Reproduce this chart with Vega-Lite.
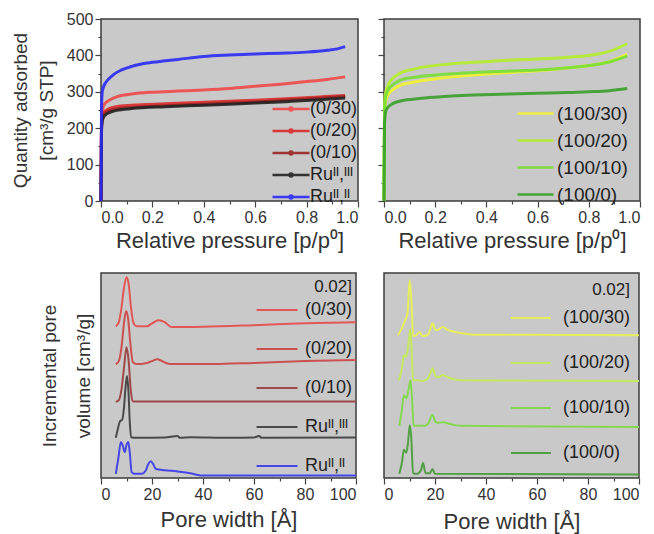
{
  "$schema": "https://vega.github.io/schema/vega-lite/v6.json",
  "background": "white",
  "padding": {"left": 10, "top": 10, "right": 5, "bottom": 5},
  "columns": 2,
  "align": "each",
  "spacing": {"row": 20, "column": 15},
  "resolve": {
    "scale": {"color": "independent", "x": "independent", "y": "independent"},
    "legend": {"color": "independent"}
  },
  "config": {
    "font": "Liberation Sans",
    "view": {"fill": "#c9c9c9", "stroke": "#3c3c3c", "strokeWidth": 1.5},
    "axis": {
      "domain": false, "grid": false, "ticks": true,
      "tickColor": "#444", "tickWidth": 1.2,
      "labelFontSize": 16, "labelColor": "#333", "labelPadding": 2,
      "titleFontSize": 22, "titleFontWeight": "normal", "titleColor": "#333"
    },
    "legend": {
      "orient": "none", "padding": 0, "symbolStrokeWidth": 2.5, "symbolSize": 100,
      "labelFontSize": 18, "labelColor": "#222",
      "titleFontSize": 17, "titleFontWeight": "normal", "titleColor": "#222"
    }
  },
  "datasets": {
    "iso_left": [
      {"s": "(0/30)", "p": 0, "v": 0}, {"s": "(0/30)", "p": 0.002, "v": 220}, {"s": "(0/30)", "p": 0.005, "v": 250}, {"s": "(0/30)", "p": 0.01, "v": 262}, {"s": "(0/30)", "p": 0.02, "v": 271}, {"s": "(0/30)", "p": 0.03, "v": 276}, {"s": "(0/30)", "p": 0.06, "v": 286}, {"s": "(0/30)", "p": 0.12, "v": 294}, {"s": "(0/30)", "p": 0.2, "v": 299}, {"s": "(0/30)", "p": 0.3, "v": 302}, {"s": "(0/30)", "p": 0.4, "v": 305}, {"s": "(0/30)", "p": 0.5, "v": 309}, {"s": "(0/30)", "p": 0.6, "v": 315}, {"s": "(0/30)", "p": 0.7, "v": 321}, {"s": "(0/30)", "p": 0.8, "v": 328}, {"s": "(0/30)", "p": 0.88, "v": 334}, {"s": "(0/30)", "p": 0.95, "v": 341},
      {"s": "(0/20)", "p": 0, "v": 0}, {"s": "(0/20)", "p": 0.002, "v": 205}, {"s": "(0/20)", "p": 0.005, "v": 232}, {"s": "(0/20)", "p": 0.01, "v": 242}, {"s": "(0/20)", "p": 0.02, "v": 249}, {"s": "(0/20)", "p": 0.03, "v": 253}, {"s": "(0/20)", "p": 0.06, "v": 259}, {"s": "(0/20)", "p": 0.12, "v": 263}, {"s": "(0/20)", "p": 0.25, "v": 267}, {"s": "(0/20)", "p": 0.4, "v": 271}, {"s": "(0/20)", "p": 0.5, "v": 274}, {"s": "(0/20)", "p": 0.6, "v": 277}, {"s": "(0/20)", "p": 0.72, "v": 281}, {"s": "(0/20)", "p": 0.85, "v": 286}, {"s": "(0/20)", "p": 0.95, "v": 290},
      {"s": "(0/10)", "p": 0, "v": 0}, {"s": "(0/10)", "p": 0.002, "v": 200}, {"s": "(0/10)", "p": 0.005, "v": 226}, {"s": "(0/10)", "p": 0.01, "v": 236}, {"s": "(0/10)", "p": 0.02, "v": 243}, {"s": "(0/10)", "p": 0.03, "v": 247}, {"s": "(0/10)", "p": 0.06, "v": 253}, {"s": "(0/10)", "p": 0.12, "v": 257}, {"s": "(0/10)", "p": 0.25, "v": 262}, {"s": "(0/10)", "p": 0.4, "v": 266}, {"s": "(0/10)", "p": 0.5, "v": 269}, {"s": "(0/10)", "p": 0.6, "v": 272}, {"s": "(0/10)", "p": 0.72, "v": 277}, {"s": "(0/10)", "p": 0.85, "v": 282}, {"s": "(0/10)", "p": 0.95, "v": 287},
      {"s": "Ruᴵᴵ,ᴵᴵᴵ", "p": 0, "v": 0}, {"s": "Ruᴵᴵ,ᴵᴵᴵ", "p": 0.002, "v": 195}, {"s": "Ruᴵᴵ,ᴵᴵᴵ", "p": 0.005, "v": 220}, {"s": "Ruᴵᴵ,ᴵᴵᴵ", "p": 0.01, "v": 230}, {"s": "Ruᴵᴵ,ᴵᴵᴵ", "p": 0.02, "v": 238}, {"s": "Ruᴵᴵ,ᴵᴵᴵ", "p": 0.03, "v": 242}, {"s": "Ruᴵᴵ,ᴵᴵᴵ", "p": 0.06, "v": 249}, {"s": "Ruᴵᴵ,ᴵᴵᴵ", "p": 0.12, "v": 254}, {"s": "Ruᴵᴵ,ᴵᴵᴵ", "p": 0.25, "v": 259}, {"s": "Ruᴵᴵ,ᴵᴵᴵ", "p": 0.4, "v": 263}, {"s": "Ruᴵᴵ,ᴵᴵᴵ", "p": 0.5, "v": 266}, {"s": "Ruᴵᴵ,ᴵᴵᴵ", "p": 0.6, "v": 269}, {"s": "Ruᴵᴵ,ᴵᴵᴵ", "p": 0.72, "v": 273}, {"s": "Ruᴵᴵ,ᴵᴵᴵ", "p": 0.85, "v": 278}, {"s": "Ruᴵᴵ,ᴵᴵᴵ", "p": 0.95, "v": 283},
      {"s": "Ruᴵᴵ,ᴵᴵ", "p": 0, "v": 0}, {"s": "Ruᴵᴵ,ᴵᴵ", "p": 0.002, "v": 260}, {"s": "Ruᴵᴵ,ᴵᴵ", "p": 0.005, "v": 300}, {"s": "Ruᴵᴵ,ᴵᴵ", "p": 0.01, "v": 314}, {"s": "Ruᴵᴵ,ᴵᴵ", "p": 0.02, "v": 327}, {"s": "Ruᴵᴵ,ᴵᴵ", "p": 0.03, "v": 335}, {"s": "Ruᴵᴵ,ᴵᴵ", "p": 0.05, "v": 348}, {"s": "Ruᴵᴵ,ᴵᴵ", "p": 0.08, "v": 360}, {"s": "Ruᴵᴵ,ᴵᴵ", "p": 0.12, "v": 370}, {"s": "Ruᴵᴵ,ᴵᴵ", "p": 0.18, "v": 379}, {"s": "Ruᴵᴵ,ᴵᴵ", "p": 0.25, "v": 385}, {"s": "Ruᴵᴵ,ᴵᴵ", "p": 0.3, "v": 389}, {"s": "Ruᴵᴵ,ᴵᴵ", "p": 0.4, "v": 397}, {"s": "Ruᴵᴵ,ᴵᴵ", "p": 0.5, "v": 401}, {"s": "Ruᴵᴵ,ᴵᴵ", "p": 0.6, "v": 404}, {"s": "Ruᴵᴵ,ᴵᴵ", "p": 0.7, "v": 406}, {"s": "Ruᴵᴵ,ᴵᴵ", "p": 0.8, "v": 409}, {"s": "Ruᴵᴵ,ᴵᴵ", "p": 0.88, "v": 414}, {"s": "Ruᴵᴵ,ᴵᴵ", "p": 0.92, "v": 418}, {"s": "Ruᴵᴵ,ᴵᴵ", "p": 0.95, "v": 424}
    ],
    "iso_right": [
      {"s": "(100/30)", "p": 0, "v": 0}, {"s": "(100/30)", "p": 0.002, "v": 225}, {"s": "(100/30)", "p": 0.005, "v": 268}, {"s": "(100/30)", "p": 0.01, "v": 282}, {"s": "(100/30)", "p": 0.02, "v": 296}, {"s": "(100/30)", "p": 0.03, "v": 303}, {"s": "(100/30)", "p": 0.06, "v": 317}, {"s": "(100/30)", "p": 0.12, "v": 327}, {"s": "(100/30)", "p": 0.25, "v": 340}, {"s": "(100/30)", "p": 0.35, "v": 346}, {"s": "(100/30)", "p": 0.49, "v": 353}, {"s": "(100/30)", "p": 0.6, "v": 358}, {"s": "(100/30)", "p": 0.72, "v": 366}, {"s": "(100/30)", "p": 0.8, "v": 372}, {"s": "(100/30)", "p": 0.88, "v": 383}, {"s": "(100/30)", "p": 0.95, "v": 403},
      {"s": "(100/20)", "p": 0, "v": 0}, {"s": "(100/20)", "p": 0.002, "v": 250}, {"s": "(100/20)", "p": 0.005, "v": 292}, {"s": "(100/20)", "p": 0.01, "v": 307}, {"s": "(100/20)", "p": 0.02, "v": 324}, {"s": "(100/20)", "p": 0.03, "v": 334}, {"s": "(100/20)", "p": 0.06, "v": 350}, {"s": "(100/20)", "p": 0.12, "v": 363}, {"s": "(100/20)", "p": 0.25, "v": 376}, {"s": "(100/20)", "p": 0.35, "v": 381}, {"s": "(100/20)", "p": 0.49, "v": 387}, {"s": "(100/20)", "p": 0.6, "v": 390}, {"s": "(100/20)", "p": 0.72, "v": 395}, {"s": "(100/20)", "p": 0.8, "v": 400}, {"s": "(100/20)", "p": 0.88, "v": 411}, {"s": "(100/20)", "p": 0.95, "v": 432},
      {"s": "(100/10)", "p": 0, "v": 0}, {"s": "(100/10)", "p": 0.002, "v": 238}, {"s": "(100/10)", "p": 0.005, "v": 280}, {"s": "(100/10)", "p": 0.01, "v": 295}, {"s": "(100/10)", "p": 0.02, "v": 310}, {"s": "(100/10)", "p": 0.03, "v": 317}, {"s": "(100/10)", "p": 0.06, "v": 331}, {"s": "(100/10)", "p": 0.12, "v": 340}, {"s": "(100/10)", "p": 0.25, "v": 349}, {"s": "(100/10)", "p": 0.35, "v": 353}, {"s": "(100/10)", "p": 0.49, "v": 357}, {"s": "(100/10)", "p": 0.6, "v": 360}, {"s": "(100/10)", "p": 0.72, "v": 366}, {"s": "(100/10)", "p": 0.8, "v": 372}, {"s": "(100/10)", "p": 0.88, "v": 382}, {"s": "(100/10)", "p": 0.95, "v": 398},
      {"s": "(100/0)", "p": 0, "v": 0}, {"s": "(100/0)", "p": 0.002, "v": 212}, {"s": "(100/0)", "p": 0.005, "v": 240}, {"s": "(100/0)", "p": 0.01, "v": 252}, {"s": "(100/0)", "p": 0.02, "v": 261}, {"s": "(100/0)", "p": 0.03, "v": 266}, {"s": "(100/0)", "p": 0.06, "v": 274}, {"s": "(100/0)", "p": 0.12, "v": 280}, {"s": "(100/0)", "p": 0.25, "v": 288}, {"s": "(100/0)", "p": 0.35, "v": 291}, {"s": "(100/0)", "p": 0.49, "v": 294}, {"s": "(100/0)", "p": 0.6, "v": 296}, {"s": "(100/0)", "p": 0.72, "v": 298}, {"s": "(100/0)", "p": 0.8, "v": 300}, {"s": "(100/0)", "p": 0.88, "v": 303}, {"s": "(100/0)", "p": 0.95, "v": 309}
    ],
    "psd_left": [
      {"s": "(0/30)", "w": 5.8, "v": 0.253}, {"s": "(0/30)", "w": 7, "v": 0.26}, {"s": "(0/30)", "w": 8, "v": 0.283}, {"s": "(0/30)", "w": 9, "v": 0.317}, {"s": "(0/30)", "w": 10, "v": 0.335}, {"s": "(0/30)", "w": 10.8, "v": 0.325}, {"s": "(0/30)", "w": 11.8, "v": 0.283}, {"s": "(0/30)", "w": 12.8, "v": 0.258}, {"s": "(0/30)", "w": 14, "v": 0.253}, {"s": "(0/30)", "w": 18, "v": 0.253}, {"s": "(0/30)", "w": 20, "v": 0.258}, {"s": "(0/30)", "w": 22.5, "v": 0.263}, {"s": "(0/30)", "w": 25, "v": 0.26}, {"s": "(0/30)", "w": 27, "v": 0.253}, {"s": "(0/30)", "w": 28, "v": 0.252}, {"s": "(0/30)", "w": 40, "v": 0.2525}, {"s": "(0/30)", "w": 60, "v": 0.255}, {"s": "(0/30)", "w": 80, "v": 0.258}, {"s": "(0/30)", "w": 100, "v": 0.26},
      {"s": "(0/20)", "w": 5.8, "v": 0.19}, {"s": "(0/20)", "w": 7, "v": 0.195}, {"s": "(0/20)", "w": 8, "v": 0.217}, {"s": "(0/20)", "w": 9, "v": 0.258}, {"s": "(0/20)", "w": 9.8, "v": 0.278}, {"s": "(0/20)", "w": 10.6, "v": 0.267}, {"s": "(0/20)", "w": 11.5, "v": 0.225}, {"s": "(0/20)", "w": 12.5, "v": 0.193}, {"s": "(0/20)", "w": 14, "v": 0.19}, {"s": "(0/20)", "w": 18, "v": 0.192}, {"s": "(0/20)", "w": 20, "v": 0.195}, {"s": "(0/20)", "w": 22, "v": 0.198}, {"s": "(0/20)", "w": 24, "v": 0.195}, {"s": "(0/20)", "w": 26, "v": 0.191}, {"s": "(0/20)", "w": 28, "v": 0.19}, {"s": "(0/20)", "w": 40, "v": 0.19}, {"s": "(0/20)", "w": 60, "v": 0.192}, {"s": "(0/20)", "w": 80, "v": 0.195}, {"s": "(0/20)", "w": 100, "v": 0.197},
      {"s": "(0/10)", "w": 5.8, "v": 0.127}, {"s": "(0/10)", "w": 7, "v": 0.13}, {"s": "(0/10)", "w": 8, "v": 0.147}, {"s": "(0/10)", "w": 9, "v": 0.183}, {"s": "(0/10)", "w": 10, "v": 0.218}, {"s": "(0/10)", "w": 10.8, "v": 0.197}, {"s": "(0/10)", "w": 11.6, "v": 0.15}, {"s": "(0/10)", "w": 12.4, "v": 0.128}, {"s": "(0/10)", "w": 14, "v": 0.1275}, {"s": "(0/10)", "w": 100, "v": 0.1275},
      {"s": "Ruᴵᴵ,ᴵᴵᴵ", "w": 5.8, "v": 0.067}, {"s": "Ruᴵᴵ,ᴵᴵᴵ", "w": 6.5, "v": 0.08}, {"s": "Ruᴵᴵ,ᴵᴵᴵ", "w": 7.5, "v": 0.095}, {"s": "Ruᴵᴵ,ᴵᴵᴵ", "w": 8.3, "v": 0.097}, {"s": "Ruᴵᴵ,ᴵᴵᴵ", "w": 9, "v": 0.117}, {"s": "Ruᴵᴵ,ᴵᴵᴵ", "w": 9.6, "v": 0.15}, {"s": "Ruᴵᴵ,ᴵᴵᴵ", "w": 10.2, "v": 0.17}, {"s": "Ruᴵᴵ,ᴵᴵᴵ", "w": 10.8, "v": 0.142}, {"s": "Ruᴵᴵ,ᴵᴵᴵ", "w": 11.3, "v": 0.092}, {"s": "Ruᴵᴵ,ᴵᴵᴵ", "w": 11.8, "v": 0.068}, {"s": "Ruᴵᴵ,ᴵᴵᴵ", "w": 14, "v": 0.067}, {"s": "Ruᴵᴵ,ᴵᴵᴵ", "w": 25, "v": 0.0675}, {"s": "Ruᴵᴵ,ᴵᴵᴵ", "w": 30, "v": 0.07}, {"s": "Ruᴵᴵ,ᴵᴵᴵ", "w": 31, "v": 0.067}, {"s": "Ruᴵᴵ,ᴵᴵᴵ", "w": 35, "v": 0.068}, {"s": "Ruᴵᴵ,ᴵᴵᴵ", "w": 50, "v": 0.067}, {"s": "Ruᴵᴵ,ᴵᴵᴵ", "w": 60, "v": 0.0675}, {"s": "Ruᴵᴵ,ᴵᴵᴵ", "w": 62, "v": 0.07}, {"s": "Ruᴵᴵ,ᴵᴵᴵ", "w": 63, "v": 0.067}, {"s": "Ruᴵᴵ,ᴵᴵᴵ", "w": 100, "v": 0.0675},
      {"s": "Ruᴵᴵ,ᴵᴵ", "w": 5.8, "v": 0.007}, {"s": "Ruᴵᴵ,ᴵᴵ", "w": 6.8, "v": 0.033}, {"s": "Ruᴵᴵ,ᴵᴵ", "w": 7.8, "v": 0.06}, {"s": "Ruᴵᴵ,ᴵᴵ", "w": 8.5, "v": 0.055}, {"s": "Ruᴵᴵ,ᴵᴵ", "w": 9.3, "v": 0.043}, {"s": "Ruᴵᴵ,ᴵᴵ", "w": 10, "v": 0.055}, {"s": "Ruᴵᴵ,ᴵᴵ", "w": 10.7, "v": 0.06}, {"s": "Ruᴵᴵ,ᴵᴵ", "w": 11.3, "v": 0.042}, {"s": "Ruᴵᴵ,ᴵᴵ", "w": 12, "v": 0.01}, {"s": "Ruᴵᴵ,ᴵᴵ", "w": 13, "v": 0.007}, {"s": "Ruᴵᴵ,ᴵᴵ", "w": 16, "v": 0.007}, {"s": "Ruᴵᴵ,ᴵᴵ", "w": 17.5, "v": 0.012}, {"s": "Ruᴵᴵ,ᴵᴵ", "w": 18.5, "v": 0.023}, {"s": "Ruᴵᴵ,ᴵᴵ", "w": 19.5, "v": 0.028}, {"s": "Ruᴵᴵ,ᴵᴵ", "w": 20.5, "v": 0.023}, {"s": "Ruᴵᴵ,ᴵᴵ", "w": 21.5, "v": 0.015}, {"s": "Ruᴵᴵ,ᴵᴵ", "w": 25, "v": 0.013}, {"s": "Ruᴵᴵ,ᴵᴵ", "w": 30, "v": 0.011}, {"s": "Ruᴵᴵ,ᴵᴵ", "w": 35, "v": 0.008}, {"s": "Ruᴵᴵ,ᴵᴵ", "w": 37, "v": 0.006}, {"s": "Ruᴵᴵ,ᴵᴵ", "w": 40, "v": 0.004}, {"s": "Ruᴵᴵ,ᴵᴵ", "w": 100, "v": 0.004}
    ],
    "psd_right": [
      {"s": "(100/30)", "w": 5.5, "v": 0.238}, {"s": "(100/30)", "w": 7, "v": 0.25}, {"s": "(100/30)", "w": 8.2, "v": 0.262}, {"s": "(100/30)", "w": 9.2, "v": 0.275}, {"s": "(100/30)", "w": 10.1, "v": 0.33}, {"s": "(100/30)", "w": 10.8, "v": 0.292}, {"s": "(100/30)", "w": 11.4, "v": 0.237}, {"s": "(100/30)", "w": 12.5, "v": 0.238}, {"s": "(100/30)", "w": 14, "v": 0.243}, {"s": "(100/30)", "w": 15, "v": 0.237}, {"s": "(100/30)", "w": 17, "v": 0.238}, {"s": "(100/30)", "w": 18, "v": 0.247}, {"s": "(100/30)", "w": 19, "v": 0.258}, {"s": "(100/30)", "w": 20.3, "v": 0.247}, {"s": "(100/30)", "w": 21.5, "v": 0.248}, {"s": "(100/30)", "w": 23, "v": 0.252}, {"s": "(100/30)", "w": 25, "v": 0.247}, {"s": "(100/30)", "w": 30, "v": 0.242}, {"s": "(100/30)", "w": 35, "v": 0.239}, {"s": "(100/30)", "w": 100, "v": 0.238},
      {"s": "(100/20)", "w": 5.8, "v": 0.162}, {"s": "(100/20)", "w": 7, "v": 0.183}, {"s": "(100/20)", "w": 7.8, "v": 0.205}, {"s": "(100/20)", "w": 8.6, "v": 0.202}, {"s": "(100/20)", "w": 9.4, "v": 0.217}, {"s": "(100/20)", "w": 10.3, "v": 0.248}, {"s": "(100/20)", "w": 10.8, "v": 0.217}, {"s": "(100/20)", "w": 11.4, "v": 0.163}, {"s": "(100/20)", "w": 13, "v": 0.163}, {"s": "(100/20)", "w": 15, "v": 0.162}, {"s": "(100/20)", "w": 17, "v": 0.165}, {"s": "(100/20)", "w": 18, "v": 0.173}, {"s": "(100/20)", "w": 19, "v": 0.183}, {"s": "(100/20)", "w": 20.2, "v": 0.17}, {"s": "(100/20)", "w": 21.5, "v": 0.168}, {"s": "(100/20)", "w": 23, "v": 0.172}, {"s": "(100/20)", "w": 25, "v": 0.168}, {"s": "(100/20)", "w": 30, "v": 0.163}, {"s": "(100/20)", "w": 100, "v": 0.162},
      {"s": "(100/10)", "w": 6, "v": 0.087}, {"s": "(100/10)", "w": 7, "v": 0.113}, {"s": "(100/10)", "w": 7.8, "v": 0.138}, {"s": "(100/10)", "w": 8.8, "v": 0.133}, {"s": "(100/10)", "w": 9.6, "v": 0.147}, {"s": "(100/10)", "w": 10.4, "v": 0.163}, {"s": "(100/10)", "w": 11, "v": 0.133}, {"s": "(100/10)", "w": 11.6, "v": 0.088}, {"s": "(100/10)", "w": 13, "v": 0.087}, {"s": "(100/10)", "w": 16, "v": 0.087}, {"s": "(100/10)", "w": 17.5, "v": 0.092}, {"s": "(100/10)", "w": 19, "v": 0.105}, {"s": "(100/10)", "w": 20.3, "v": 0.093}, {"s": "(100/10)", "w": 21.5, "v": 0.092}, {"s": "(100/10)", "w": 23, "v": 0.093}, {"s": "(100/10)", "w": 26, "v": 0.09}, {"s": "(100/10)", "w": 30, "v": 0.087}, {"s": "(100/10)", "w": 100, "v": 0.085},
      {"s": "(100/0)", "w": 6, "v": 0.007}, {"s": "(100/0)", "w": 7, "v": 0.025}, {"s": "(100/0)", "w": 7.8, "v": 0.047}, {"s": "(100/0)", "w": 8.7, "v": 0.042}, {"s": "(100/0)", "w": 9.4, "v": 0.058}, {"s": "(100/0)", "w": 10.1, "v": 0.088}, {"s": "(100/0)", "w": 10.7, "v": 0.067}, {"s": "(100/0)", "w": 11.4, "v": 0.008}, {"s": "(100/0)", "w": 13, "v": 0.007}, {"s": "(100/0)", "w": 14.5, "v": 0.013}, {"s": "(100/0)", "w": 15.3, "v": 0.025}, {"s": "(100/0)", "w": 16.3, "v": 0.008}, {"s": "(100/0)", "w": 18, "v": 0.008}, {"s": "(100/0)", "w": 19, "v": 0.015}, {"s": "(100/0)", "w": 20, "v": 0.007}, {"s": "(100/0)", "w": 100, "v": 0.006}
    ]
  },
  "concat": [
    {
      "width": 257, "height": 182,
      "data": {"name": "iso_left"},
      "mark": {"type": "line", "strokeWidth": 3, "interpolate": "monotone", "opacity": 0.9},
      "encoding": {
        "x": {"field": "p", "type": "quantitative", "scale": {"domain": [0, 1], "nice": false},
          "title": "Relative pressure [p/p⁰]",
          "axis": {"values": [0, 0.1, 0.2, 0.3, 0.4, 0.5, 0.6, 0.7, 0.8, 0.9, 1.0],
            "labelExpr": "round(datum.value*10) % 2 == 0 ? format(datum.value, '.1f') : ''",
            "tickSize": {"condition": {"test": "round(datum.value*10) % 2 == 1", "value": 3}, "value": 6},
            "titlePadding": 5}},
        "y": {"field": "v", "type": "quantitative", "scale": {"domain": [0, 500], "nice": false},
          "title": ["Quantity adsorbed", "[cm³/g STP]"],
          "axis": {"values": [0, 50, 100, 150, 200, 250, 300, 350, 400, 450, 500],
            "labelExpr": "datum.value % 100 == 0 ? datum.label : ''",
            "tickSize": {"condition": {"test": "datum.value % 100 != 0", "value": 3}, "value": 6},
            "titleFontSize": 19, "titleLineHeight": 26, "titlePadding": 10}},
        "color": {"field": "s", "type": "nominal",
          "scale": {"domain": ["(0/30)", "(0/20)", "(0/10)", "Ruᴵᴵ,ᴵᴵᴵ", "Ruᴵᴵ,ᴵᴵ"],
            "range": ["#f04848", "#dc2a2a", "#9a2424", "#222222", "#2a2af5"]},
          "legend": {"title": null, "legendX": 181, "legendY": 81, "rowPadding": 4, "labelOffset": 10,
            "symbolType": "M-3.7,0H3.7M-0.3,0A0.3,0.3 0 1,0 0.3,0A0.3,0.3 0 1,0 -0.3,0"}}
      }
    },
    {
      "width": 256, "height": 182,
      "data": {"name": "iso_right"},
      "mark": {"type": "line", "strokeWidth": 3, "interpolate": "monotone", "opacity": 0.9},
      "encoding": {
        "x": {"field": "p", "type": "quantitative", "scale": {"domain": [0, 1], "nice": false},
          "title": "Relative pressure [p/p⁰]",
          "axis": {"values": [0, 0.1, 0.2, 0.3, 0.4, 0.5, 0.6, 0.7, 0.8, 0.9, 1.0],
            "labelExpr": "round(datum.value*10) % 2 == 0 ? format(datum.value, '.1f') : ''",
            "tickSize": {"condition": {"test": "round(datum.value*10) % 2 == 1", "value": 3}, "value": 6},
            "titlePadding": 5}},
        "y": {"field": "v", "type": "quantitative", "scale": {"domain": [0, 500], "nice": false},
          "title": null,
          "axis": {"values": [0, 50, 100, 150, 200, 250, 300, 350, 400, 450, 500], "labels": false,
            "tickSize": {"condition": {"test": "datum.value % 100 != 0", "value": 3}, "value": 6}}},
        "color": {"field": "s", "type": "nominal",
          "scale": {"domain": ["(100/30)", "(100/20)", "(100/10)", "(100/0)"],
            "range": ["#f2f230", "#b4ee2a", "#78de34", "#3a9e2a"]},
          "legend": {"title": null, "legendX": 142, "legendY": 85, "rowPadding": 7, "labelFontSize": 19, "labelOffset": 12,
            "symbolType": "M-3.6,0H3.6"}}
      }
    },
    {
      "width": 255, "height": 205,
      "data": {"name": "psd_left"},
      "mark": {"type": "line", "strokeWidth": 2, "interpolate": "monotone"},
      "encoding": {
        "x": {"field": "w", "type": "quantitative", "scale": {"domain": [0, 100], "nice": false},
          "title": "Pore width [Å]",
          "axis": {"values": [0, 10, 20, 30, 40, 50, 60, 70, 80, 90, 100],
            "labelExpr": "datum.value % 20 == 0 ? datum.label : ''",
            "tickSize": {"condition": {"test": "datum.value % 20 != 0", "value": 3}, "value": 6},
            "titlePadding": 7}},
        "y": {"field": "v", "type": "quantitative", "scale": {"domain": [0, 0.342], "nice": false},
          "title": ["Incremental pore", "volume [cm³/g]"],
          "axis": {"labels": false, "ticks": false, "titleFontSize": 19, "titleLineHeight": 34, "titlePadding": 8}},
        "color": {"field": "s", "type": "nominal",
          "scale": {"domain": ["(0/30)", "(0/20)", "(0/10)", "Ruᴵᴵ,ᴵᴵᴵ", "Ruᴵᴵ,ᴵᴵ"],
            "range": ["#e25656", "#cc5050", "#9e4a4a", "#4a4a4a", "#4646e6"]},
          "legend": {"title": "0.02]", "titleAnchor": "end", "titlePadding": 5, "legendX": 167, "legendY": 6, "rowPadding": 21, "labelOffset": 19,
            "symbolStrokeWidth": 2, "symbolType": "M-4.1,0H4.1"}}
      }
    },
    {
      "width": 255, "height": 205,
      "data": {"name": "psd_right"},
      "mark": {"type": "line", "strokeWidth": 2, "interpolate": "monotone"},
      "encoding": {
        "x": {"field": "w", "type": "quantitative", "scale": {"domain": [0, 100], "nice": false},
          "title": "Pore width [Å]",
          "axis": {"values": [0, 10, 20, 30, 40, 50, 60, 70, 80, 90, 100],
            "labelExpr": "datum.value % 20 == 0 ? datum.label : ''",
            "tickSize": {"condition": {"test": "datum.value % 20 != 0", "value": 3}, "value": 6},
            "titlePadding": 9}},
        "y": {"field": "v", "type": "quantitative", "scale": {"domain": [0, 0.342], "nice": false},
          "title": null, "axis": null},
        "color": {"field": "s", "type": "nominal",
          "scale": {"domain": ["(100/30)", "(100/20)", "(100/10)", "(100/0)"],
            "range": ["#e6ee5a", "#c6e85e", "#84d850", "#52a044"]},
          "legend": {"title": "0.02]", "titleAnchor": "end", "titlePadding": 10, "legendX": 138, "legendY": 9, "rowPadding": 27, "labelOffset": 23,
            "symbolStrokeWidth": 2, "symbolType": "M-4,0H4"}}
      }
    }
  ]
}
